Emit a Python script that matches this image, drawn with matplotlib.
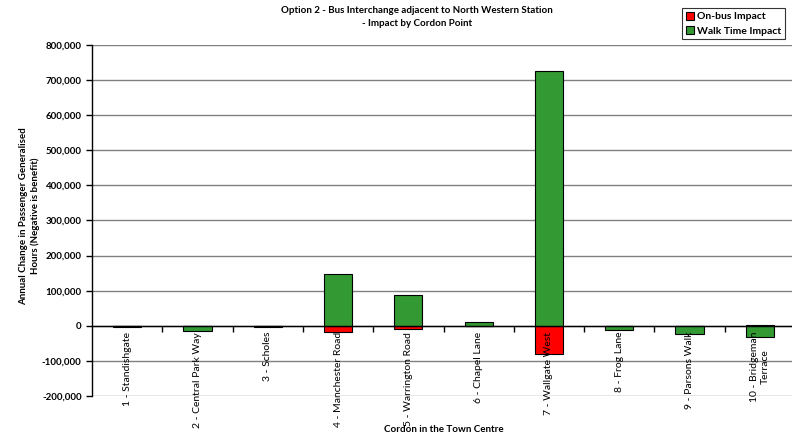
import numpy as np
import matplotlib.pyplot as plt
from matplotlib.ticker import FuncFormatter, MultipleLocator, FixedLocator
from matplotlib.patches import Patch

plt.rcParams['font.family'] = ['Lato', 'DejaVu Sans']

cordons = ['1 - Standishgate', '2 - Central Park Way', '3 - Scholes',
           '4 - Manchester Road', '5 - Warrington Road', '6 - Chapel Lane',
           '7 - Wallgate West', '8 - Frog Lane', '9 - Parsons Walk',
           '10 - Bridgeman\nTerrace']
on_bus = [-1000, 0, -1000, -18000, -10000, -1000, -81500, -1000, 0, 2000]
walk_time = [-2000, -14000, -2000, 149000, 89000, 12000, 726000, -10000, -22000, -32000]

series = [('On-bus Impact', on_bus, '#ff0000'),
          ('Walk Time Impact', walk_time, '#339933')]

fig = plt.figure(figsize=(7.92, 4.38), dpi=100)
ax = fig.add_axes([92 / 792, 1 - 396 / 438, 703 / 792, 351 / 438])

x = np.arange(len(cordons))
pos_base = np.zeros(len(cordons))
neg_base = np.zeros(len(cordons))
for name, vals, col in series:
    vals = np.array(vals, dtype=float)
    bottoms = np.where(vals >= 0, pos_base, neg_base)
    ax.bar(x, vals, width=0.4, bottom=bottoms, color=col,
           edgecolor='black', linewidth=0.8, zorder=3)
    pos_base += np.clip(vals, 0, None)
    neg_base += np.clip(vals, None, 0)

ax.set_xlim(-0.5, len(cordons) - 0.5)
ax.set_ylim(-200000, 800000)
ax.yaxis.set_major_locator(MultipleLocator(100000))
ax.yaxis.set_major_formatter(FuncFormatter(lambda v, p: f'{v:,.0f}'))
ax.grid(axis='y', color='#808080', linewidth=1.0, zorder=0)

for s in ['top', 'right']:
    ax.spines[s].set_visible(False)
ax.spines['left'].set_linewidth(1.0)
ax.spines['bottom'].set_position(('data', 0))
ax.spines['bottom'].set_linewidth(1.0)
ax.spines['bottom'].set_zorder(4)

# category labels drawn as text so they sit over the bars
ax.set_xticks(x)
ax.set_xticklabels([])
ax.xaxis.set_minor_locator(FixedLocator(np.arange(0.5, len(cordons) - 0.5, 1)))
ax.tick_params(axis='x', which='major', length=0)
ax.tick_params(axis='x', which='minor', length=4, width=1, direction='out')
for xi, name in zip(x, cordons):
    ax.annotate(name, (xi, 0), xytext=(0, -6), textcoords='offset pixels',
                rotation=90, ha='center', va='top', fontsize=7.5,
                multialignment='center', zorder=10, annotation_clip=False)

ax.tick_params(axis='y', length=4, width=1, labelsize=7)
for lbl in ax.get_yticklabels():
    lbl.set_fontweight('bold')

fig.text(417 / 792, 1 - 17 / 438,
         'Option 2 - Bus Interchange adjacent to North Western Station\n- Impact by Cordon Point',
         ha='center', va='center', fontsize=7, fontweight='bold', linespacing=1.5)
fig.text(444 / 792, 1 - 430 / 438, 'Cordon in the Town Centre',
         ha='center', va='center', fontsize=7, fontweight='bold')
fig.text(29.5 / 792, 1 - 216 / 438,
         'Annual Change in Passenger Generalised\nHours (Negative is benefit)',
         ha='center', va='center', rotation=90, fontsize=7, fontweight='bold')

handles = [Patch(facecolor=col, edgecolor='black', linewidth=0.8, label=name)
           for name, vals, col in series]
leg = fig.legend(handles=handles, loc='upper right', bbox_to_anchor=(790 / 792, 1 - 3 / 438),
                 fontsize=7.5, frameon=True, fancybox=False, edgecolor='black',
                 handlelength=0.8, handleheight=0.8, handletextpad=0.3,
                 borderpad=0.35, labelspacing=0.45)
leg.get_frame().set_linewidth(0.8)
for t in leg.get_texts():
    t.set_fontweight('bold')

fig.savefig('out.png', dpi=100)
